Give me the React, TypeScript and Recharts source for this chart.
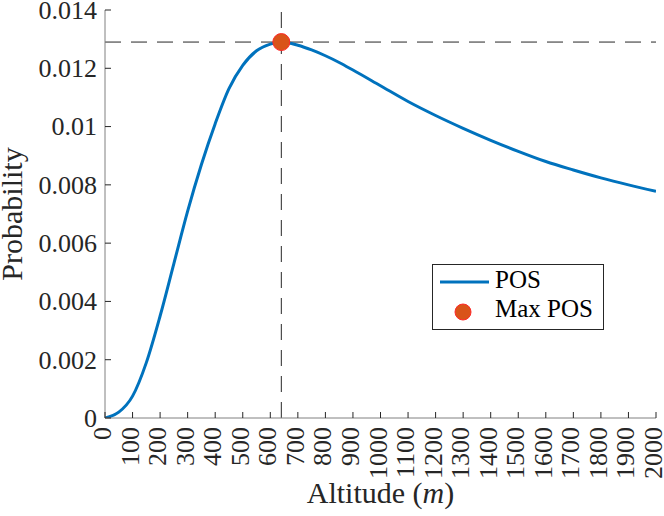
import { ComposedChart, Line, Scatter, XAxis, YAxis, ReferenceLine, Legend } from 'recharts';

// altitude (m) and probability of success
const altitude = [0, 50, 100, 150, 200, 250, 300, 350, 400, 450, 500, 550, 600, 640, 700, 750, 800, 850, 900, 1000, 1100, 1200, 1300, 1400, 1500, 1600, 1700, 1800, 1900, 2000];
const pos = [0, 0.0002, 0.00075, 0.0019, 0.0035, 0.0053, 0.0071, 0.0087, 0.0101, 0.0113, 0.0121, 0.0126, 0.01283, 0.0129, 0.01279, 0.01263, 0.01243, 0.0122, 0.01194, 0.0114, 0.01086, 0.01038, 0.00994, 0.00953, 0.00915, 0.0088, 0.00851, 0.00824, 0.008, 0.00778];

const maxAltitude = [640];
const maxPos = [0.0129];

const xTicks = [0, 100, 200, 300, 400, 500, 600, 700, 800, 900, 1000, 1100, 1200, 1300, 1400, 1500, 1600, 1700, 1800, 1900, 2000];
const yTicks = [0, 0.002, 0.004, 0.006, 0.008, 0.01, 0.012, 0.014];

const curve = altitude.map((a, i) => ({ x: a, y: pos[i] }));
const peak = maxAltitude.map((a, i) => ({ x: a, y: maxPos[i] }));

const FONT = "'Liberation Serif', 'Times New Roman', serif";
const INK = '#262626';
const BLUE = '#0072BD';
const ORANGE = '#D95319';
const serif = { fontFamily: FONT };

const fmtY = (v: number) => `${+v.toFixed(3)}`;

const BottomTick = ({ x, y, payload }: any) => (
  <g>
    <line x1={x} x2={x} y1={y} y2={y - 6} stroke={INK} />
    <text
      x={x + 6}
      y={y + 9}
      transform={`rotate(-90 ${x + 6} ${y + 9})`}
      textAnchor="end"
      fontSize={26}
      style={serif}
      fill={INK}
    >
      {payload.value}
    </text>
  </g>
);

const LeftTick = ({ x, y, payload }: any) => (
  <g>
    <line x1={x} x2={x + 6} y1={y} y2={y} stroke={INK} />
    <text x={x - 8} y={y} dy="0.34em" textAnchor="end" fontSize={26} style={serif} fill={INK}>
      {fmtY(payload.value)}
    </text>
  </g>
);

const TopTick = ({ x, y }: any) => <line x1={x} x2={x} y1={y} y2={y + 6} stroke={INK} />;
const RightTick = ({ x, y }: any) => <line x1={x} x2={x - 6} y1={y} y2={y} stroke={INK} />;

const XLabel = ({ viewBox }: any) => (
  <text x={viewBox.x + viewBox.width / 2} y={viewBox.y + 85} textAnchor="middle" fontSize={30} style={serif} fill={INK}>
    Altitude (<tspan fontStyle="italic">m</tspan>)
  </text>
);

const YLabel = ({ viewBox }: any) => {
  const cx = 22;
  const cy = viewBox.y + viewBox.height / 2;
  return (
    <text x={cx} y={cy} transform={`rotate(-90 ${cx} ${cy})`} textAnchor="middle" fontSize={30} style={serif} fill={INK}>
      Probability
    </text>
  );
};

const LegendBox = () => (
  <svg width={172} height={66} style={{ display: 'block' }}>
    <rect x={0.5} y={0.5} width={171} height={65} fill="#fff" stroke={INK} />
    <line x1={8} x2={57} y1={18} y2={18} stroke={BLUE} strokeWidth={3} />
    <text x={63} y={24} fontSize={25} style={serif} fill="#000">POS</text>
    <circle cx={31} cy={48} r={8} fill={ORANGE} stroke="#ff2a2a" strokeWidth={1} />
    <text x={63} y={53} fontSize={25} style={serif} fill="#000">Max POS</text>
  </svg>
);

export default function App() {
  return (
    <div style={{ position: 'absolute', left: 0, top: 0, background: '#fff' }}>
      <ComposedChart width={664} height={516} margin={{ top: 10, right: 8, bottom: 0, left: 0 }}>
        <XAxis
          dataKey="x"
          type="number"
          domain={[0, 2000]}
          ticks={xTicks}
          interval={0}
          height={98}
          tickSize={0}
          tickMargin={0}
          tickLine={false}
          axisLine={{ stroke: '#808080' }}
          tick={<BottomTick />}
          label={{ content: XLabel }}
          allowDataOverflow
        />
        <XAxis
          xAxisId="top"
          orientation="top"
          type="number"
          domain={[0, 2000]}
          ticks={xTicks}
          interval={0}
          height={0}
          tickSize={0}
          tickMargin={0}
          tickLine={false}
          axisLine={{ stroke: '#808080' }}
          tick={<TopTick />}
          allowDataOverflow
        />
        <YAxis
          type="number"
          domain={[0, 0.014]}
          ticks={yTicks}
          interval={0}
          width={105}
          tickSize={0}
          tickMargin={0}
          tickLine={false}
          axisLine={{ stroke: '#808080' }}
          tick={<LeftTick />}
          label={{ content: YLabel }}
          allowDataOverflow
        />
        <YAxis
          yAxisId="right"
          orientation="right"
          type="number"
          domain={[0, 0.014]}
          ticks={yTicks}
          interval={0}
          width={0}
          tickSize={0}
          tickMargin={0}
          tickLine={false}
          axisLine={{ stroke: '#808080' }}
          tick={<RightTick />}
          allowDataOverflow
        />
        <ReferenceLine x={maxAltitude[0]} stroke={INK} strokeDasharray="16 10" />
        <ReferenceLine y={maxPos[0]} stroke={INK} strokeDasharray="16 10" />
        <Line
          data={curve}
          dataKey="y"
          type="monotone"
          stroke={BLUE}
          strokeWidth={3}
          dot={false}
          name="POS"
          isAnimationActive={false}
        />
        <Scatter
          data={peak}
          dataKey="y"
          name="Max POS"
          fill={ORANGE}
          shape={(p: any) => <circle cx={p.cx} cy={p.cy} r={8.5} fill={ORANGE} stroke="#ff2a2a" strokeWidth={1} />}
          isAnimationActive={false}
        />
        <Legend
          layout="horizontal"
          verticalAlign="middle"
          align="center"
          content={<LegendBox />}
          wrapperStyle={{ position: 'absolute', left: 432, top: 264, width: 172, height: 66 }}
        />
      </ComposedChart>
    </div>
  );
}
